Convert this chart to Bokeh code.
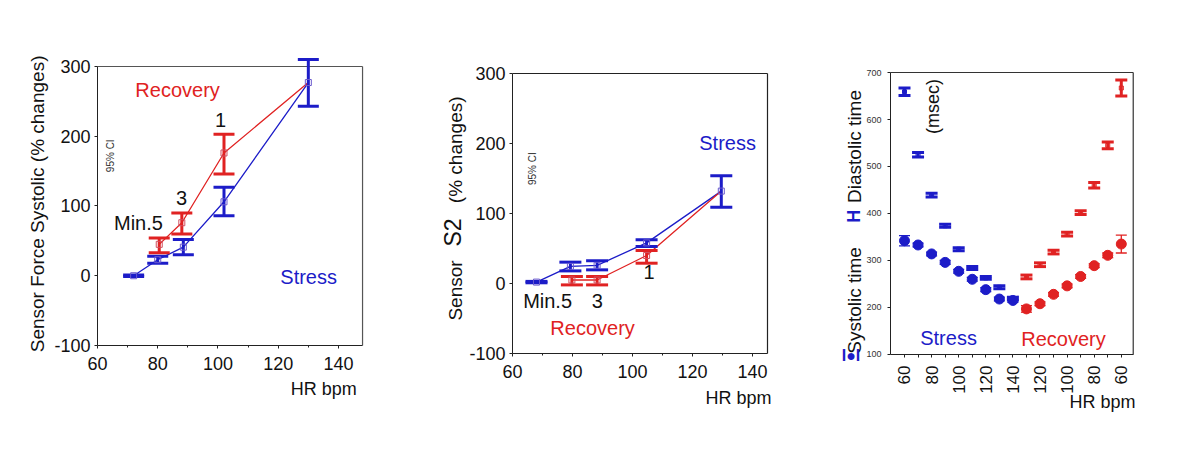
import math
from bokeh.plotting import figure
from bokeh.layouts import row
from bokeh.models import Label, FixedTicker, Range1d
from bokeh.embed import file_html
from bokeh.resources import INLINE

BLUE = "#1c1cc8"
RED = "#e02222"
FONT = "Liberation Sans"

# ---------------- Panel 1: Sensor Force Systolic ----------------
p1_stress_hr = [72, 80, 88.5, 102, 130]
p1_stress_mean = [0, 23, 41, 106, 277]
p1_stress_lo = [-1, 18, 30, 86, 243]
p1_stress_hi = [1, 28, 52, 127, 310]
p1_rec_hr = [80.5, 88, 102, 130]
p1_rec_mean = [45, 76, 176, 277]
p1_rec_lo = [33, 60, 146]
p1_rec_hi = [54, 90, 203]

# ---------------- Panel 2: Sensor S2 ----------------
p2_stress_hr = [68, 79.3, 88.2, 104.7, 129.6]
p2_stress_mean = [2, 24.5, 26, 58, 132]
p2_stress_lo = [1, 18, 19.5, 53, 109]
p2_stress_hi = [3, 30.5, 32.5, 62.5, 154]
p2_rec_hr = [79.8, 88.2, 104.7, 129.6]
p2_rec_mean = [5, 5, 40, 132]
p2_rec_lo = [-2, -2, 29]
p2_rec_hi = [10, 10, 47]

# ---------------- Panel 3: Systolic / Diastolic time ----------------
stress_hr = [60, 70, 80, 90, 100, 110, 120, 130, 140]
recovery_hr = [130, 120, 110, 100, 90, 80, 70, 60]
stress_sys = [342, 333, 314, 296, 277, 260, 238, 218, 215]
stress_sys_ci = [11, 4, 4, 4, 4, 4, 4, 4, 4]
stress_dia = [659, 525, 439, 374, 324, 284, 263, 243, 219]
stress_dia_ci = [8, 5, 4, 3, 3, 3, 3, 3, 3]
recovery_sys = [197, 208, 228, 246, 266, 289, 311, 335]
recovery_sys_ci = [7, 4, 4, 4, 4, 4, 5, 19]
recovery_dia = [265, 291, 318, 356, 402, 460, 545, 667]
recovery_dia_ci = [4, 4, 4, 4, 4, 6, 7, 17]

y_ticks_pct = [-100, 0, 100, 200, 300]
x_ticks_hr = [60, 80, 100, 120, 140]
x_minor_hr = [70, 90, 110, 130]
y_ticks_ms = [100, 200, 300, 400, 500, 600, 700]


def errbars(p, x, lo, hi, color, cap, lw):
    p.segment(x0=x, y0=lo, x1=x, y1=hi, line_color=color, line_width=lw)
    p.scatter(x=list(x) + list(x), y=list(lo) + list(hi), marker="dash",
              size=cap, line_color=color, line_width=lw)


def make_fig(width, xr, yr):
    p = figure(width=width, height=440, x_range=Range1d(*xr), y_range=Range1d(*yr),
               min_border=0, outline_line_color=None, toolbar_location=None,
               output_backend="svg", background_fill_color="white",
               border_fill_color="white")
    p.xgrid.visible = False
    p.ygrid.visible = False
    for ax in (p.xaxis[0], p.yaxis[0]):
        ax.major_label_text_font = FONT
        ax.major_label_text_font_size = "18px"
        ax.major_label_text_color = "#111111"
        ax.axis_line_color = "#222222"
        ax.major_tick_in = 0
        ax.major_tick_out = 3
        ax.minor_tick_in = 0
        ax.minor_tick_out = 2
        ax.major_tick_line_color = "#222222"
        ax.minor_tick_line_color = "#222222"
    return p


def lab(p, x, y, text, size, color="#111111", angle=0.0, font=FONT, style="normal"):
    p.add_layout(Label(x=x, y=y, text=text, text_font=font, text_font_size=size,
                       text_color=color, text_align="center", text_baseline="middle",
                       angle=angle, text_font_style=style))


# ---------- Figure 1 ----------
p1 = make_fig(400, (27.8, 160.6), (-236.2, 394.6))
p1.xaxis.fixed_location = -100
p1.xaxis.bounds = (60, 148)
p1.yaxis.fixed_location = 60
p1.yaxis.bounds = (-100, 300)
p1.xaxis.ticker = FixedTicker(ticks=x_ticks_hr, minor_ticks=x_minor_hr)
p1.yaxis.ticker = FixedTicker(ticks=y_ticks_pct)
p1.yaxis.major_label_overrides = {t: str(t) for t in y_ticks_pct}
p1.xaxis.major_label_standoff = 9
p1.yaxis.major_label_standoff = 4
p1.segment(x0=[60, 148], y0=[300, -100], x1=[148, 148], y1=[300, 300],
           line_color="#555555", line_width=1.2)

p1.line(p1_stress_hr, p1_stress_mean, line_color=BLUE, line_width=1.3)
p1.line(p1_rec_hr, p1_rec_mean, line_color=RED, line_width=1.3)
errbars(p1, p1_stress_hr, p1_stress_lo, p1_stress_hi, BLUE, 21, 3)
errbars(p1, p1_rec_hr[:3], p1_rec_lo, p1_rec_hi, RED, 21, 3)
p1.scatter(p1_stress_hr, p1_stress_mean, marker="square", size=6, fill_color=None,
           line_color="#6a5acd", line_width=1)
p1.scatter(p1_rec_hr[:3], p1_rec_mean[:3], marker="square", size=6, fill_color=None,
           line_color="#d05060", line_width=1)

lab(p1, 86.6, 267, "Recovery", "20px", RED)
lab(p1, 100.9, 222.6, "1", "20px")
lab(p1, 87.9, 112, "3", "20px")
lab(p1, 73.6, 75, "Min.5", "20px")
lab(p1, 130.1, -2.5, "Stress", "20px", BLUE)
lab(p1, 64.3, 172, "95% CI", "10px", "#333333", math.pi / 2)
lab(p1, 135.1, -163, "HR bpm", "18px")
lab(p1, 40.1, 103, "Sensor Force Systolic (% changes)", "19px", "#111111", math.pi / 2)

# ---------- Figure 2 ----------
p2 = make_fig(400, (22.67, 156), (-224.3, 404.3))
p2.xaxis.fixed_location = -100
p2.xaxis.bounds = (60, 145)
p2.yaxis.fixed_location = 60
p2.yaxis.bounds = (-100, 300)
p2.xaxis.ticker = FixedTicker(ticks=x_ticks_hr, minor_ticks=x_minor_hr)
p2.yaxis.ticker = FixedTicker(ticks=y_ticks_pct)
p2.yaxis.major_label_overrides = {t: str(t) for t in y_ticks_pct}
p2.xaxis.major_label_standoff = 9
p2.yaxis.major_label_standoff = 4
p2.segment(x0=[60, 145], y0=[300, -100], x1=[145, 145], y1=[300, 300],
           line_color="#222222", line_width=1.2)

p2.line(p2_stress_hr, p2_stress_mean, line_color=BLUE, line_width=1.3)
p2.line(p2_rec_hr, p2_rec_mean, line_color=RED, line_width=1.3)
errbars(p2, p2_stress_hr, p2_stress_lo, p2_stress_hi, BLUE, 22, 3)
errbars(p2, p2_rec_hr[:3], p2_rec_lo, p2_rec_hi, RED, 22, 3)
p2.scatter(p2_stress_hr, p2_stress_mean, marker="square", size=6, fill_color=None,
           line_color="#6a5acd", line_width=1)
p2.scatter(p2_rec_hr[:3], p2_rec_mean[:3], marker="square", size=6, fill_color=None,
           line_color="#d05060", line_width=1)

lab(p2, 131.7, 201, "Stress", "20px", BLUE)
lab(p2, 71.7, -25.7, "Min.5", "20px")
lab(p2, 88.3, -25.7, "3", "20px")
lab(p2, 105.5, 17, "1", "20px")
lab(p2, 86.7, -62.9, "Recovery", "20px", RED)
lab(p2, 66.7, 164, "95% CI", "10px", "#333333", math.pi / 2)
lab(p2, 135.3, -164, "HR bpm", "18px")
lab(p2, 41, -10, "Sensor", "19px", "#111111", math.pi / 2)
lab(p2, 40.3, 72.9, "S2", "23px", "#111111", math.pi / 2)
lab(p2, 41, 191, "(% changes)", "19px", "#111111", math.pi / 2)

# ---------- Figure 3 ----------
n_s = len(stress_hr)
n_r = len(recovery_hr)
xs = list(range(n_s))
xr = list(range(n_s, n_s + n_r))
all_hr = stress_hr + recovery_hr

p3 = make_fig(400, (-7.675, 21.845), (-83, 853.2))
p3.xaxis.fixed_location = 100
p3.xaxis.bounds = (-1.033, 16.88)
p3.yaxis.fixed_location = -1.033
p3.yaxis.bounds = (100, 700)
p3.xaxis.ticker = FixedTicker(ticks=list(range(n_s + n_r)))
p3.xaxis.major_label_overrides = {i: (str(h) if i % 2 == 0 else "") for i, h in enumerate(all_hr)}
p3.xaxis.major_label_orientation = math.pi / 2
p3.xaxis.major_label_text_font_size = "17px"
p3.xaxis.major_label_standoff = 8
p3.yaxis.ticker = FixedTicker(ticks=y_ticks_ms)
p3.yaxis.major_label_text_font_size = "9px"
p3.yaxis.major_label_text_color = "#333333"
p3.yaxis.major_label_standoff = 6
p3.segment(x0=[-1.033, 16.88], y0=[700, 100], x1=[16.88, 16.88], y1=[700, 700],
           line_color="#333333", line_width=1.2)

s_lo = [m - c for m, c in zip(stress_sys, stress_sys_ci)]
s_hi = [m + c for m, c in zip(stress_sys, stress_sys_ci)]
r_lo = [m - c for m, c in zip(recovery_sys, recovery_sys_ci)]
r_hi = [m + c for m, c in zip(recovery_sys, recovery_sys_ci)]
sd_lo = [m - c for m, c in zip(stress_dia, stress_dia_ci)]
sd_hi = [m + c for m, c in zip(stress_dia, stress_dia_ci)]
rd_lo = [m - c for m, c in zip(recovery_dia, recovery_dia_ci)]
rd_hi = [m + c for m, c in zip(recovery_dia, recovery_dia_ci)]

errbars(p3, xs, s_lo, s_hi, BLUE, 11, 1.3)
errbars(p3, xr, r_lo, r_hi, RED, 11, 1.3)
p3.scatter(xs, stress_sys, marker="circle", size=10, fill_color=BLUE, line_color=BLUE)
p3.scatter(xr, recovery_sys, marker="circle", size=10, fill_color=RED, line_color=RED)
errbars(p3, xs, sd_lo, sd_hi, BLUE, 12, 3)
errbars(p3, xr, rd_lo, rd_hi, RED, 12, 3)
p3.scatter(xs, stress_dia, marker="square", size=4, fill_color=None, line_color=BLUE, line_width=1)
p3.scatter(xr, recovery_dia, marker="square", size=4, fill_color=None, line_color=RED, line_width=1)

lab(p3, 3.25, 136, "Stress", "20px", BLUE)
lab(p3, 11.73, 134, "Recovery", "20px", RED)
lab(p3, 2.14, 627.7, "(msec)", "18px", "#111111", math.pi / 2)
lab(p3, 14.61, -2, "HR bpm", "18px")
lab(p3, -3.69, 215, "Systolic time", "19px", "#111111", math.pi / 2)
lab(p3, -3.69, 542.6, "Diastolic time", "19px", "#111111", math.pi / 2)
lab(p3, -3.75, 394, "H", "18px", BLUE, math.pi / 2, style="bold")
lab(p3, -3.95, 97, "I\u25cfI", "16px", BLUE, 0.0, style="bold")

layout = row(p1, p2, p3)
open("out.html", "w").write(file_html(layout, INLINE))
